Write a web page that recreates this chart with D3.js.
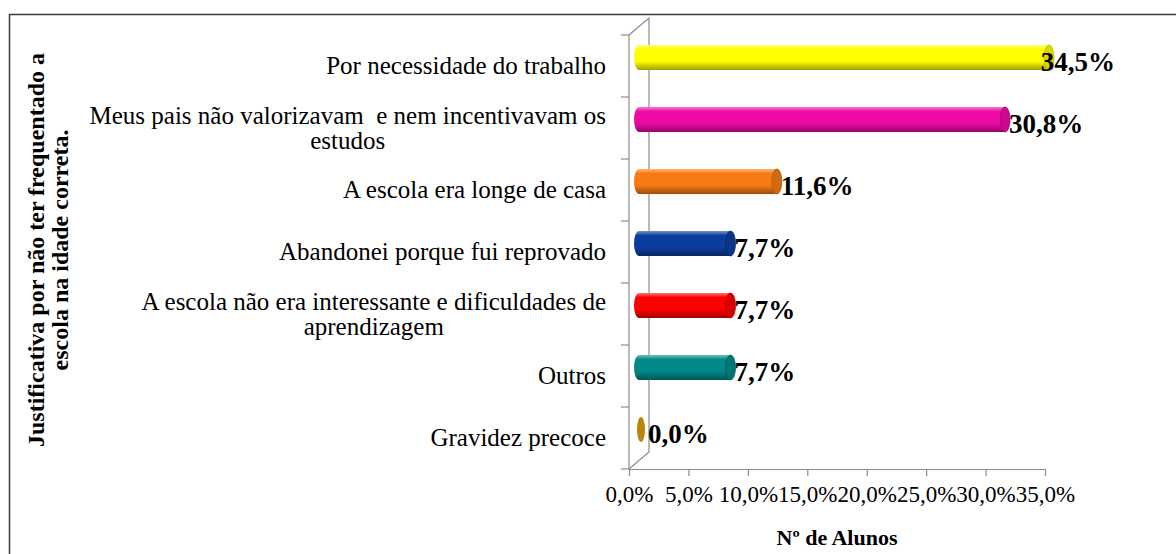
<!DOCTYPE html>
<html>
<head>
<meta charset="utf-8">
<script src="https://cdn.jsdelivr.net/npm/d3@7"></script>
<style>
  body { margin: 0; background: #fff; }
  svg { display: block; font-family: "Liberation Serif", "Times New Roman", serif; }
</style>
</head>
<body>
<div id="chart"></div>
<script>
// data
const categories = [
    "Por necessidade do trabalho",
    "Meus pais não valorizavam  e nem incentivavam os\nestudos",
    "A escola era longe de casa",
    "Abandonei porque fui reprovado",
    "A escola não era interessante e dificuldades de\naprendizagem",
    "Outros",
    "Gravidez precoce"
];
const values = [34.5, 30.8, 11.6, 7.7, 7.7, 7.7, 0.0];
const barColors = ["#ffff00", "#ee0aa6", "#f77a14", "#0b3d9e", "#ff0000", "#018888", "#b8860b"];
const xTicks = [0, 5, 10, 15, 20, 25, 30, 35];
const xTitle = "Nº de Alunos";
const yTitle = ["Justificativa por não ter frequentado a", "escola na idade correta."];

const W = 1176, H = 554;
const margin = { top: 35, left: 629, right: 131, bottom: 85 };
const depth = { dx: 20, dy: 17 };
const axisColor = "#8c8c8c";

const fmt = v => v.toFixed(1).replace(".", ",") + "%";

const svg = d3.select("#chart").append("svg")
    .attr("width", W)
    .attr("height", H);

// outer frame
svg.append("rect")
    .attr("x", 9.5).attr("y", 14.5)
    .attr("width", W + 20).attr("height", H + 20)
    .attr("fill", "none")
    .attr("stroke", "#3c3c3c")
    .attr("stroke-width", 1.5);

// scales
const x = d3.scaleLinear().domain([0, 35]).range([margin.left, W - margin.right]);
const y = d3.scaleBand().domain(categories).range([margin.top, H - margin.bottom]);
const y0 = y.range()[1];

// 3D walls
const walls = svg.append("g").attr("stroke", axisColor).attr("fill", "none").attr("stroke-width", 1.2);
walls.append("path")
    .attr("d", `M${x(0)},${margin.top} L${x(0) + depth.dx},${margin.top - depth.dy} L${x(0) + depth.dx},${y0 - depth.dy} L${x(0)},${y0}`);

// category axis (front line + ticks at band edges)
walls.append("line")
    .attr("x1", x(0)).attr("x2", x(0))
    .attr("y1", margin.top).attr("y2", y0);
walls.selectAll(".ytick")
    .data(categories.map(c => y(c)).concat([y0]))
    .join("line")
    .attr("x1", x(0) - 8).attr("x2", x(0))
    .attr("y1", d => d).attr("y2", d => d);

// x axis
const xAxis = svg.append("g")
    .attr("transform", `translate(0,${y0})`)
    .call(d3.axisBottom(x).tickValues(xTicks).tickFormat(fmt).tickSize(7).tickSizeOuter(0).tickPadding(10));
xAxis.selectAll("path, line").attr("stroke", axisColor).attr("stroke-width", 1.2);
xAxis.selectAll("text")
    .attr("font-family", "Liberation Serif, Times New Roman, serif")
    .attr("font-size", 23)
    .attr("fill", "#000");

// gradients for the cylinders
const defs = svg.append("defs");
barColors.forEach((c, i) => {
    const g = defs.append("linearGradient")
        .attr("id", "grad" + i)
        .attr("x1", 0).attr("y1", 0).attr("x2", 0).attr("y2", 1);
    const base = d3.color(c);
    g.append("stop").attr("offset", "0%").attr("stop-color", d3.interpolateRgb(c, "#fff")(0.45));
    g.append("stop").attr("offset", "18%").attr("stop-color", c);
    g.append("stop").attr("offset", "65%").attr("stop-color", c);
    g.append("stop").attr("offset", "100%").attr("stop-color", base.darker(1.3));
});

// bars
const rx = 5;
const barH = 25;
const bars = svg.append("g")
    .attr("transform", `translate(${depth.dx / 2},${-depth.dy / 2})`);

const bar = bars.selectAll(".bar")
    .data(categories.map((c, i) => ({ cat: c, value: values[i], i })))
    .join("g")
    .attr("class", "bar");

bar.each(function (d) {
    const g = d3.select(this);
    const cy = y(d.cat) + y.bandwidth() / 2;
    const x0 = x(0), x1 = x(d.value);
    if (d.value > 0) {
        g.append("ellipse")
            .attr("cx", x0).attr("cy", cy)
            .attr("rx", rx).attr("ry", barH / 2)
            .attr("fill", `url(#grad${d.i})`);
        g.append("rect")
            .attr("x", x0).attr("y", cy - barH / 2)
            .attr("width", x1 - x0).attr("height", barH)
            .attr("fill", `url(#grad${d.i})`);
        g.append("ellipse")
            .attr("cx", x1).attr("cy", cy)
            .attr("rx", rx).attr("ry", barH / 2)
            .attr("fill", d3.color(barColors[d.i]).darker(0.45))
            .attr("stroke", d3.color(barColors[d.i]).darker(0.9))
            .attr("stroke-width", 0.8);
    } else {
        g.append("ellipse")
            .attr("cx", x0 + 2).attr("cy", cy)
            .attr("rx", 4).attr("ry", barH / 2)
            .attr("fill", barColors[d.i]);
    }
});

// value labels
const labelMaxRight = 1115;
svg.append("g").selectAll("text")
    .data(values)
    .join("text")
    .attr("y", (d, i) => y(categories[i]) + y.bandwidth() / 2 + 5)
    .attr("font-size", 27)
    .attr("font-weight", "bold")
    .attr("fill", "#000")
    .text(fmt)
    .attr("x", function (d) {
        const w = this.getComputedTextLength();
        const start = x(d) + depth.dx / 2 + (d > 0 ? rx - 1 : 9);
        return Math.min(start, labelMaxRight - w);
    });

// category labels (multi-line ones are centred as a block, block right-aligned)
const labelRight = x(0) - 23;
const lineGap = 25;
categories.forEach(c => {
    const lines = c.split("\n");
    const cy = y(c) + y.bandwidth() / 2;
    const t = svg.append("g");
    const texts = lines.map((ln, k) => t.append("text")
        .attr("font-size", 25)
        .attr("fill", "#000")
        .style("white-space", "pre")
        .attr("y", cy + 8 + (k - (lines.length - 1) / 2) * lineGap)
        .text(ln));
    if (lines.length === 1) {
        texts[0].attr("x", labelRight).attr("text-anchor", "end");
    } else {
        const maxW = d3.max(texts, s => s.node().getComputedTextLength());
        texts.forEach(s => s.attr("x", labelRight - maxW / 2).attr("text-anchor", "middle"));
    }
});

// axis titles
svg.append("text")
    .attr("x", 837).attr("y", 545)
    .attr("text-anchor", "middle")
    .attr("font-size", 22)
    .attr("font-weight", "bold")
    .text(xTitle);

const yt = svg.append("g").attr("transform", "translate(44,250) rotate(-90)");
yTitle.forEach((ln, k) => {
    yt.append("text")
        .attr("x", 0).attr("y", k * 24)
        .attr("text-anchor", "middle")
        .attr("font-size", 24)
        .attr("font-weight", "bold")
        .text(ln);
});
</script>
</body>
</html>
